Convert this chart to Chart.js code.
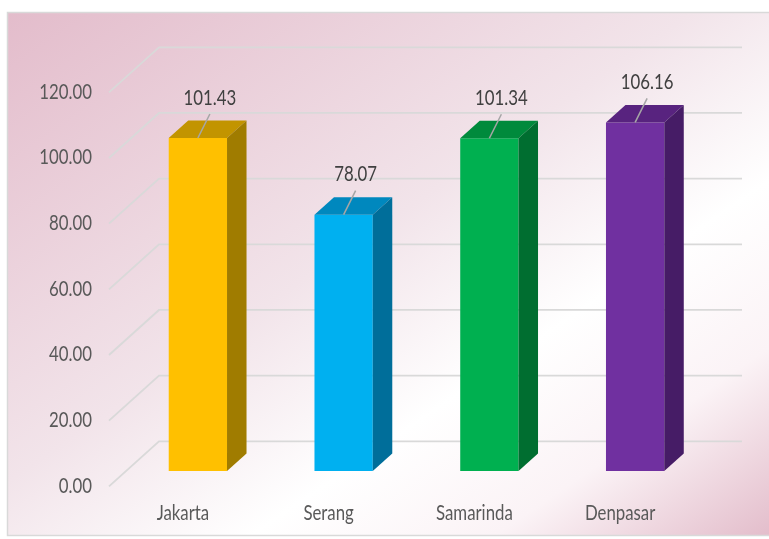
<!DOCTYPE html>
<html>
<head>
<meta charset="utf-8">
<script src="https://cdn.jsdelivr.net/npm/chart.js@4/dist/chart.umd.min.js"></script>
<style>
  html, body { margin: 0; padding: 0; background: #ffffff; }
  #wrap { width: 769px; height: 539px; }
</style>
</head>
<body>
<div id="wrap"><canvas id="c" width="769" height="539"></canvas></div>
<script>
// ---- data ----
const categories = ['Jakarta', 'Serang', 'Samarinda', 'Denpasar'];
const values = [101.43, 78.07, 101.34, 106.16];
const frontColors = ['#FFC000', '#00B0F0', '#00B050', '#7030A0'];
const topColors = ['#C29400', '#0088BE', '#008A3C', '#58237F'];
const sideColors = ['#A07C00', '#006E9A', '#006E30', '#461C66'];
const yTickValues = [0, 20, 40, 60, 80, 100, 120];

const FONT = "Lato, 'Open Sans', 'Liberation Sans', sans-serif";
const FONT_SIZE = 21;
const TEXT_SQUEEZE = 0.8;   // horizontal squeeze of text, as in the reference

// 3D geometry (style only)
const BAR_DEPTH = { dx: 19.5, dy: -17.5 };
const FRONT_PLANE = { dx: -16, dy: 15.3 };
const BACK_PLANE = { dx: 34, dy: -29.7 };

const backgroundPlugin = {
  id: 'bg',
  beforeDraw(chart) {
    const ctx = chart.ctx;
    const W = chart.width, H = chart.height;
    ctx.save();
    ctx.fillStyle = '#ffffff';
    ctx.fillRect(0, 0, W, H);
    const x0 = 7, y0 = 12, w = W - x0 + 2, h = 523;
    const f = 2 * w * h / (w * w + h * h);
    const g = ctx.createLinearGradient(x0, y0, x0 + h * f, y0 + w * f);
    g.addColorStop(0, '#E3BCCB');
    g.addColorStop(0.45, '#F2E4EA');
    g.addColorStop(0.66, '#FFFFFF');
    g.addColorStop(0.82, '#FBF3F6');
    g.addColorStop(1, '#E3BDCB');
    ctx.fillStyle = g;
    ctx.fillRect(x0, y0, w, h);
    ctx.strokeStyle = '#D9D9D9';
    ctx.lineWidth = 1.5;
    ctx.strokeRect(x0 + 0.5, y0 + 0.5, w, h);
    ctx.restore();
  }
};

// squeeze axis label text horizontally around each label's anchor
const narrowTextPlugin = {
  id: 'narrowText',
  afterLayout(chart) {
    ['x', 'y'].forEach(id => {
      const scale = chart.scales[id];
      if (!scale || scale._narrowed) return;
      const orig = scale.drawLabels.bind(scale);
      scale.drawLabels = function (area) {
        const ctx = this.ctx;
        const rot = ctx.rotate;
        ctx.rotate = function (a) { rot.call(this, a); this.scale(TEXT_SQUEEZE, 1); };
        try { orig(area); } finally { ctx.rotate = rot; }
      };
      scale._narrowed = true;
    });
  }
};

const gridPlugin = {
  id: 'grid3d',
  beforeDatasetsDraw(chart) {
    const ctx = chart.ctx;
    const ys = chart.scales.y;
    const { left, right } = chart.chartArea;
    ctx.save();
    ctx.strokeStyle = '#D9D9D9';
    ctx.lineWidth = 1.8;
    ys.ticks.forEach(t => {
      const y = ys.getPixelForValue(t.value);
      ctx.beginPath();
      ctx.moveTo(left + FRONT_PLANE.dx, y + FRONT_PLANE.dy);
      ctx.lineTo(left + BACK_PLANE.dx, y + BACK_PLANE.dy);
      ctx.lineTo(right + BACK_PLANE.dx, y + BACK_PLANE.dy);
      ctx.stroke();
    });
    ctx.restore();
  }
};

const bar3dPlugin = {
  id: 'bar3d',
  afterDatasetsDraw(chart) {
    const ctx = chart.ctx;
    const meta = chart.getDatasetMeta(0);
    ctx.save();
    meta.data.forEach((bar, i) => {
      const p = bar.getProps(['x', 'y', 'base', 'width'], true);
      const l = p.x - p.width / 2, r = p.x + p.width / 2;
      const top = p.y, bot = p.base;
      const dx = BAR_DEPTH.dx, dy = BAR_DEPTH.dy;
      ctx.fillStyle = topColors[i];
      ctx.beginPath();
      ctx.moveTo(l, top);
      ctx.lineTo(r, top);
      ctx.lineTo(r + dx, top + dy);
      ctx.lineTo(l + dx, top + dy);
      ctx.closePath();
      ctx.fill();
      ctx.fillStyle = sideColors[i];
      ctx.beginPath();
      ctx.moveTo(r, top);
      ctx.lineTo(r + dx, top + dy);
      ctx.lineTo(r + dx, bot + dy);
      ctx.lineTo(r, bot);
      ctx.closePath();
      ctx.fill();
    });
    meta.data.forEach((bar, i) => {
      const p = bar.getProps(['x', 'y'], true);
      ctx.strokeStyle = '#A6A6A6';
      ctx.lineWidth = 1.5;
      ctx.beginPath();
      ctx.moveTo(p.x, p.y);
      ctx.lineTo(p.x + 12, p.y - 24);
      ctx.stroke();
      ctx.save();
      ctx.translate(p.x + 12, p.y - 40);
      ctx.scale(TEXT_SQUEEZE, 1);
      ctx.fillStyle = '#404040';
      ctx.font = FONT_SIZE + 'px ' + FONT;
      ctx.textAlign = 'center';
      ctx.textBaseline = 'middle';
      ctx.fillText(values[i].toFixed(2), 0, 0);
      ctx.restore();
    });
    ctx.restore();
  }
};

new Chart(document.getElementById('c'), {
  type: 'bar',
  data: {
    labels: categories,
    datasets: [{
      data: values,
      backgroundColor: frontColors,
      borderWidth: 0,
      barPercentage: 0.4,
      categoryPercentage: 1.0
    }]
  },
  options: {
    responsive: false,
    animation: false,
    devicePixelRatio: 1,
    layout: { padding: { left: 0, top: 77, right: 61, bottom: 0 } },
    plugins: { legend: { display: false }, tooltip: { enabled: false } },
    scales: {
      x: {
        grid: { display: false, drawTicks: false },
        border: { display: false },
        ticks: {
          color: '#595959',
          font: { family: FONT, size: FONT_SIZE },
          padding: 30,
          labelOffset: -15,
          maxRotation: 0
        },
        afterFit(scale) { scale.height = 68; }
      },
      y: {
        min: 0,
        max: 120,
        grid: { display: false, drawTicks: false },
        border: { display: false },
        afterBuildTicks(scale) { scale.ticks = yTickValues.map(v => ({ value: v })); },
        ticks: {
          color: '#595959',
          font: { family: FONT, size: FONT_SIZE },
          padding: 33,
          labelOffset: 15,
          callback: v => Number(v).toFixed(2)
        },
        afterFit(scale) { scale.width = 125; }
      }
    }
  },
  plugins: [backgroundPlugin, narrowTextPlugin, gridPlugin, bar3dPlugin]
});
</script>
</body>
</html>
